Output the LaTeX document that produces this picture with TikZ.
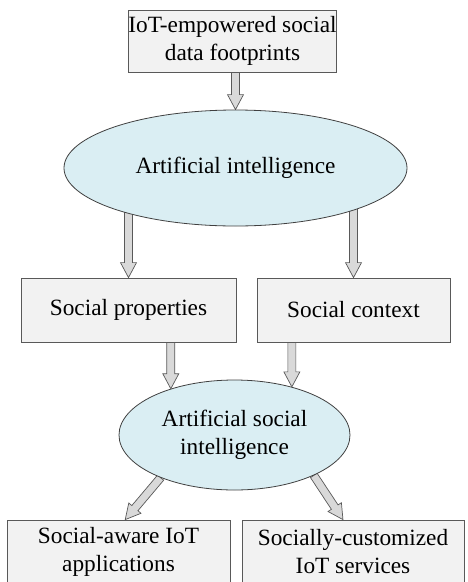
\documentclass[tikz,border=0pt]{standalone}
\usepackage{fontspec}
\setmainfont{Liberation Serif}
\usetikzlibrary{calc,shapes.geometric}
\pgfdeclarelayer{background}
\pgfsetlayers{background,main}
\definecolor{boxfill}{HTML}{F2F2F2}
\definecolor{boxline}{HTML}{595959}
\definecolor{ellfill}{HTML}{DAEEF3}
\definecolor{ellline}{HTML}{404040}
\definecolor{arrfill}{HTML}{D9D9D9}
\definecolor{arrline}{HTML}{595959}
\tikzset{
  boxnode/.style={draw=boxline, fill=boxfill, line width=0.8pt, rectangle, inner sep=0pt, align=center,
    font=\fontsize{23.3}{28}\selectfont},
  ellnode/.style={draw=ellline, fill=ellfill, line width=0.8pt, ellipse, inner sep=0pt, align=center,
    font=\fontsize{23.3}{28}\selectfont},
  barrow/.style={draw=arrline, fill=arrfill, line width=0.7pt, line join=miter}
}
\newcommand\blockarr[2]{%
  \path #1 coordinate (ba-a) #2 coordinate (ba-b);
  \coordinate (ba-h) at ($(ba-b)!15pt!(ba-a)$);
  \draw[barrow] ($(ba-a)!4pt!90:(ba-b)$) -- ($(ba-h)!4pt!90:(ba-b)$) -- ($(ba-h)!8pt!90:(ba-b)$) -- (ba-b)
    -- ($(ba-h)!8pt!-90:(ba-b)$) -- ($(ba-h)!4pt!-90:(ba-b)$) -- ($(ba-a)!4pt!-90:(ba-b)$) -- cycle;}
\begin{document}
\begin{tikzpicture}[x=1pt,y=-1pt]
\clip (0,0) rectangle (467,582);
\node[boxnode, minimum width=195pt, minimum height=62pt] (top) at (232.5,41) {IoT-empowered social\\data footprints};
\node[ellnode, minimum width=343pt, minimum height=116pt] (ai) at (235.5,168) {Artificial intelligence};
\node[boxnode, minimum width=215pt, minimum height=64pt] (sp) at (128.5,310) {Social properties};
\node[boxnode, minimum width=193pt, minimum height=64pt] (sc) at (353.5,310) {Social context};
\node[ellnode, minimum width=231pt, minimum height=110pt] (asi) at (234.5,435) {Artificial social\\intelligence};
\node[boxnode, minimum width=223pt, minimum height=64pt] (apps) at (118.5,552) {Social-aware IoT\\applications};
\node[boxnode, minimum width=222pt, minimum height=64pt] (svc) at (353,552) {Socially-customized\\IoT services};
\begin{pgfonlayer}{background}
\blockarr{(ai.north |- top.south)}{(ai.north)}
\blockarr{(sp.north |- ai.center)}{(sp.north)}
\blockarr{(sc.north |- ai.center)}{(sc.north)}
\blockarr{(asi.144 |- sp.south)}{(asi.144)}
\blockarr{(asi.40 |- sc.south)}{(asi.40)}
\blockarr{(asi.210)}{($(apps.north west)!0.53!(apps.north east)$)}
\blockarr{(asi.333)}{($(svc.north west)!0.455!(svc.north east)$)}
\end{pgfonlayer}
\end{tikzpicture}
\end{document}
